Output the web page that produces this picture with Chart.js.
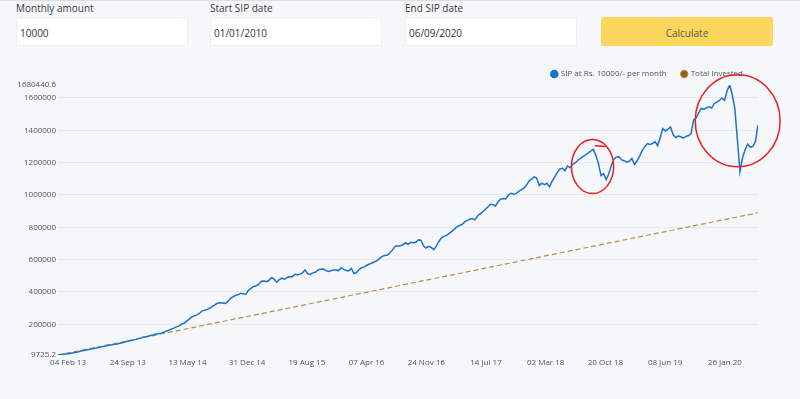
<!DOCTYPE html>
<html>
<head>
<meta charset="utf-8">
<script src="https://cdn.jsdelivr.net/npm/chart.js@4.4.1/dist/chart.umd.min.js"></script>
<style>
  body { margin: 0; width: 800px; height: 399px; background: #f6f7fb; font-family: "Open Sans", sans-serif; position: relative; overflow: hidden; }
  .topline { position: absolute; left: 0; top: 0; width: 800px; height: 1px; background: #dcdee3; }
  .lbl { position: absolute; top: 1px; font-size: 10px; line-height: 14px; color: #3a3a3a; }
  .box { position: absolute; top: 17px; width: 172px; height: 29px; background: #fff; border: 1px solid #eceef2; box-sizing: border-box; font-size: 10px; line-height: 30px; color: #333; padding-left: 3px; }
  .btn { position: absolute; left: 601px; top: 17px; width: 172px; height: 29px; background: #fdd65e; border-radius: 2px; text-align: center; font-size: 10px; line-height: 32px; color: #555; }
  #wrap { position: absolute; left: 0; top: 55px; }
</style>
</head>
<body>
<div class="topline"></div>
<div class="lbl" style="left:16px">Monthly amount</div>
<div class="lbl" style="left:210px">Start SIP date</div>
<div class="lbl" style="left:405px">End SIP date</div>
<div class="box" style="left:16px">10000</div>
<div class="box" style="left:210px">01/01/2010</div>
<div class="box" style="left:405px">06/09/2020</div>
<div class="btn">Calculate</div>
<div id="wrap"><canvas id="sipChart" width="800" height="325"></canvas></div>

<script>
// SIP value, one reading every 10 days (x = days from 04 Feb 13)
const startDay = -39;
const dayStep = 10;
const sipValues = [
    9725.2, 12000, 14000, 16000, 18000, 21000, 24000, 27000, 30000, 34000,
    37000, 40000, 43500, 46000, 50000, 53000, 57000, 61000, 64000, 67000,
    71000, 73000, 75500, 78000, 82000, 85000, 90000, 95000, 98000, 101000,
    105000, 110000, 114000, 119000, 122000, 126000, 130000, 134000, 139000, 141000,
    145000, 150000, 157000, 163000, 170000, 176000, 184000, 190000, 200000, 206000,
    219000, 232000, 245000, 252000, 258000, 268000, 283000, 287000, 292000, 300000,
    311000, 320000, 331000, 333000, 331000, 329000, 340000, 360000, 370000, 379000,
    383000, 392000, 388000, 386000, 410000, 422000, 434000, 438000, 446000, 466000,
    468000, 464000, 472000, 489000, 479000, 460000, 476000, 485000, 479000, 488000,
    495000, 493000, 509000, 505000, 510000, 518000, 536000, 512000, 508000, 518000,
    522000, 535000, 540000, 542000, 534000, 526000, 531000, 535000, 536000, 532000,
    550000, 540000, 532000, 530000, 545000, 514000, 520000, 538000, 550000, 555000,
    565000, 573000, 579000, 587000, 594000, 608000, 620000, 625000, 628000, 642000,
    660000, 683000, 684000, 685000, 692000, 703000, 695000, 707000, 705000, 707000,
    722000, 720000, 685000, 672000, 682000, 675000, 662000, 683000, 712000, 735000,
    744000, 750000, 762000, 775000, 789000, 802000, 811000, 817000, 833000, 843000,
    850000, 854000, 846000, 870000, 883000, 895000, 910000, 925000, 942000, 940000,
    932000, 958000, 974000, 978000, 976000, 1000000, 1010000, 1005000, 1008000, 1022000,
    1031000, 1042000, 1060000, 1086000, 1098000, 1112000, 1104000, 1058000, 1073000, 1064000,
    1072000, 1050000, 1085000, 1110000, 1140000, 1160000, 1165000, 1150000, 1180000, 1168000,
    1190000, 1198000, 1215000, 1226000, 1238000, 1248000, 1259000, 1272000, 1282000, 1245000,
    1195000, 1120000, 1132000, 1095000, 1130000, 1182000, 1222000, 1235000, 1236000, 1217000,
    1212000, 1203000, 1208000, 1226000, 1188000, 1210000, 1240000, 1274000, 1299000, 1318000,
    1312000, 1318000, 1330000, 1305000, 1355000, 1410000, 1396000, 1408000, 1420000, 1374000,
    1356000, 1365000, 1360000, 1352000, 1362000, 1368000, 1380000, 1465000, 1478000, 1510000,
    1536000, 1530000, 1540000, 1546000, 1538000, 1565000, 1575000, 1585000, 1600000, 1585000,
    1645000, 1680440.6, 1620000, 1535000, 1340000, 1145000, 1230000, 1280000, 1315000, 1295000,
    1300000, 1330000, 1434000
];

// Total invested (straight line)
const investedDays = [-39, 2681];
const investedValues = [10000, 890000];

// Axis ticks
const xTickDays = [0, 232, 464, 696, 928, 1160, 1392, 1624, 1856, 2088, 2320, 2552];
const xTickLabels = ['04 Feb 13', '24 Sep 13', '13 May 14', '31 Dec 14', '19 Aug 15', '07 Apr 16',
                     '24 Nov 16', '14 Jul 17', '02 Mar 18', '20 Oct 18', '08 Jun 19', '26 Jan 20'];
const yTicks = [200000, 400000, 600000, 800000, 1000000, 1200000, 1400000, 1600000];

// Red hand-drawn marks on the screenshot
const redMarks = [
    { day: 2038, value: 1176000, rxDays: 82, ryValue: 167000 },
    { day: 2602, value: 1459000, rxDays: 165, ryValue: 285000 }
];

const yMin = Math.min(...sipValues);
const yMax = Math.max(...sipValues);

Chart.defaults.font.family = '"Open Sans", sans-serif';
Chart.defaults.font.size = 8;
Chart.defaults.color = '#555';

// Legend sits a bit closer to the plot than Chart.js does by default
const legendGap = {
    id: 'legendGap',
    beforeInit(chart) {
        const fit = chart.legend.fit;
        chart.legend.fit = function () {
            fit.bind(chart.legend)();
            this.height -= 3;
        };
    }
};

const markPlugin = {
    id: 'redMarks',
    afterDraw(chart) {
        const { ctx, scales: { x, y } } = chart;
        ctx.save();
        ctx.strokeStyle = '#ee1c1c';
        ctx.lineWidth = 1.5;
        redMarks.forEach(m => {
            const cx = x.getPixelForValue(m.day);
            const cy = y.getPixelForValue(m.value);
            const rx = x.getPixelForValue(m.day + m.rxDays) - cx;
            const ry = cy - y.getPixelForValue(m.value + m.ryValue);
            ctx.beginPath();
            ctx.ellipse(cx, cy, rx, ry, 0, 0, Math.PI * 2);
            ctx.stroke();
        });
        // little stroke above the first circle
        ctx.beginPath();
        ctx.moveTo(x.getPixelForValue(2047), y.getPixelForValue(1305000));
        ctx.lineTo(x.getPixelForValue(2090), y.getPixelForValue(1300000));
        ctx.stroke();
        ctx.restore();
    }
};

const ctx = document.getElementById('sipChart').getContext('2d');
new Chart(ctx, {
    type: 'line',
    data: {
        datasets: [
            {
                label: 'SIP at Rs. 10000/- per month',
                data: sipValues.map((v, i) => ({ x: startDay + i * dayStep, y: v })),
                borderColor: '#1a73d0',
                backgroundColor: '#1a73d0',
                borderWidth: 1.5,
                pointRadius: 0,
                tension: 0,
                fill: false
            },
            {
                label: 'Total Invested',
                data: investedDays.map((d, i) => ({ x: d, y: investedValues[i] })),
                borderColor: 'rgba(170,135,50,0.9)',
                backgroundColor: '#8b6914',
                borderWidth: 1.2,
                borderDash: [5, 3],
                pointRadius: 0,
                tension: 0,
                fill: false
            }
        ]
    },
    options: {
        responsive: false,
        animation: false,
        layout: { padding: { left: 0, right: 42, top: 0, bottom: 0 } },
        plugins: {
            legend: {
                position: 'top',
                align: 'end',
                labels: { usePointStyle: true, pointStyle: 'circle', boxWidth: 5, boxHeight: 5, padding: 15, color: '#555' }
            },
            tooltip: { enabled: false }
        },
        scales: {
            x: {
                type: 'linear',
                min: startDay,
                max: startDay + (sipValues.length - 1) * dayStep,
                grid: { display: false, drawTicks: false },
                border: { display: false },
                afterBuildTicks: scale => { scale.ticks = xTickDays.map(v => ({ value: v })); },
                afterFit: scale => { scale.height = 25; },
                ticks: {
                    autoSkip: false,
                    maxRotation: 0,
                    padding: 3,
                    callback: (value, index) => xTickLabels[index]
                }
            },
            y: {
                min: yMin,
                max: yMax,
                border: { display: false },
                grid: {
                    drawTicks: false,
                    color: c => yTicks.includes(c.tick.value) ? 'rgba(0,0,0,0.06)' : 'rgba(0,0,0,0)'
                },
                afterBuildTicks: scale => { scale.ticks = [yMin, ...yTicks, yMax].map(v => ({ value: v })); },
                afterFit: scale => { scale.width = 58; },
                ticks: {
                    autoSkip: false,
                    padding: 2,
                    callback: value => String(value)
                }
            }
        }
    },
    plugins: [legendGap, markPlugin]
});
</script>
</body>
</html>
